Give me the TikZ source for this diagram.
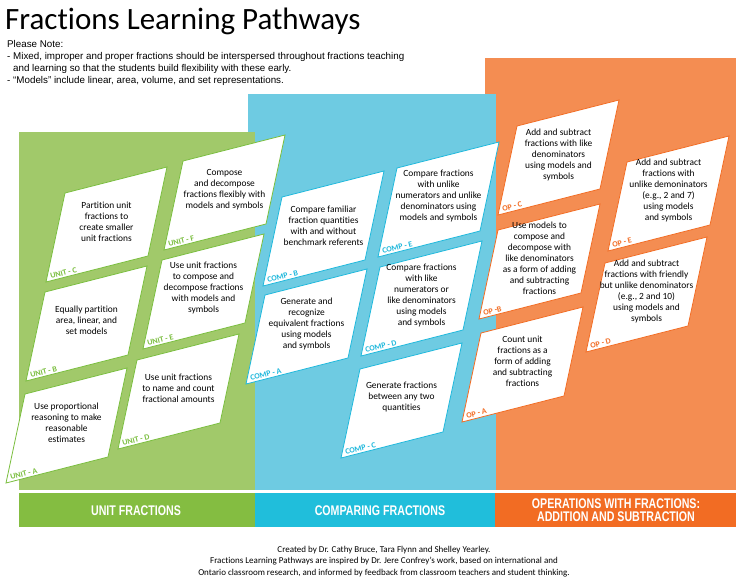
\documentclass[tikz,border=0pt]{standalone}
\usepackage{fontspec}
\setmainfont{Carlito}[Ligatures=NoCommon]
\newfontfamily\notefont{Liberation Sans}
\newfontfamily\barfont[FakeStretch=0.76]{Liberation Sans}

% panel and bar colours
\definecolor{greenbg}{RGB}{161,201,106}
\definecolor{bluebg}{RGB}{110,203,226}
\definecolor{orangebg}{RGB}{244,141,82}
\definecolor{greenbar}{RGB}{132,189,65}
\definecolor{bluebar}{RGB}{32,190,219}
\definecolor{orangebar}{RGB}{242,108,35}
\definecolor{unitcol}{RGB}{122,190,62}
\definecolor{compcol}{RGB}{30,184,220}
\definecolor{opcol}{RGB}{242,108,35}

\tikzset{
  cardedge/.style={draw=#1, fill=white, line width=0.8pt, line join=miter},
  cardtext/.style={align=center, inner sep=0pt, font=\fontsize{9.4}{11}\selectfont},
  cardlab/.style={text=#1, anchor=south west, rotate=14.3, inner sep=0pt,
    font=\fontsize{8}{8}\selectfont\bfseries},
  barlab/.style={text=white, align=center, font=\barfont\bfseries\fontsize{14}{13}\selectfont},
}

\begin{document}
\begin{tikzpicture}[x=1pt, y=-1pt]
  \useasboundingbox (0,0) rectangle (739,584);

  % Title and notes
  \node[anchor=base west, inner sep=0pt, font=\fontsize{31}{31}\selectfont] (title) at (5,29)
    {Fractions Learning Pathways};
  \node[anchor=north west, inner sep=0pt, align=left, font=\notefont\fontsize{9.8}{12}\selectfont] (note) at (7,40.5)
    {Please Note:\\
     - Mixed, improper and proper fractions should be interspersed throughout fractions teaching\\
     \phantom{- }and learning so that the students build flexibility with these early.\\
     - “Models” include linear, area, volume, and set representations.};

  % Coloured panels (orange at the back, green in front)
  \fill[orangebg] (485,58) rectangle (736,490);
  \fill[bluebg] (248,94) rectangle (496,490);
  \fill[greenbg] (19,132) rectangle (255,490);

  % Cards: name / top-left corner / colour / label / text
  \foreach \nm/\x/\y/\col/\lab/\txt in {
      unitC/65/193/unitcol/{UNIT -  C}/{Partition unit\\fractions to\\create smaller\\unit fractions},
      unitF/183/161/unitcol/{UNIT - F}/{Compose\\and decompose\\fractions flexibly with\\models and symbols},
      unitB/45/292/unitcol/{UNIT - B}/{Equally partition\\area, linear, and\\set models},
      unitE/162/260/unitcol/{UNIT - E}/{Use unit fractions\\to compose and\\decompose fractions\\with models and\\symbols},
      unitA/25/394/unitcol/{UNIT - A}/{Use proportional\\reasoning to make\\reasonable\\estimates},
      unitD/137/360/unitcol/{UNIT - D}/{Use unit fractions\\to name and count\\fractional amounts},
      compB/282/197/compcol/{COMP - B}/{Compare familiar\\fraction quantities\\with and without\\benchmark referents},
      compE/397/168/compcol/{COMP - E}/{Compare fractions\\with unlike\\numerators and unlike\\denominators using\\models and symbols},
      compA/265/295/compcol/{COMP - A}/{Generate and\\recognize\\equivalent fractions\\using models\\and symbols},
      compD/380/267/compcol/{COMP - D}/{Compare fractions\\with like\\numerators or\\like denominators\\using models\\and symbols},
      compC/360/369/compcol/{COMP - C}/{Generate fractions\\between any two\\quantities},
      opC/517/126/opcol/{OP - C}/{Add and subtract\\fractions with like\\denominators\\using models and\\symbols},
      opE/627/162/opcol/{OP - E}/{Add and subtract\\fractions with\\unlike demoninators\\(e.g., 2 and 7)\\using models\\and symbols},
      opB/498/230/opcol/{OP -B}/{Use models to\\compose and\\decompose with\\like denominators\\as a form of adding\\and subtracting\\fractions},
      opD/605/263/opcol/{OP - D}/{Add and subtract\\fractions with friendly\\but unlike denominators\\(e.g., 2 and 10)\\using models and\\symbols},
      opA/481/333/opcol/{OP - A}/{Count unit\\fractions as a\\form of adding\\and subtracting\\fractions}%
    } {
    \draw[cardedge=\col] (\x,\y) -- ++(102,-26) -- ++(-19,89) -- ++(-102,26) -- cycle;
    \node[cardtext] (\nm) at (\x+41.5,\y+28.5) {\txt};
    \node[cardlab=\col] (\nm-lab) at (\x-14,\y+86) {\lab};
  }

  % Strand bars
  \fill[greenbar] (19,493) rectangle (255,527);
  \fill[bluebar] (255,493) rectangle (495,527);
  \fill[orangebar] (495,493) rectangle (736,527);
  \node[barlab] (unitbar) at (136,511) {UNIT FRACTIONS};
  \node[barlab] (compbar) at (380,511) {COMPARING FRACTIONS};
  \node[barlab] (opbar) at (616,510.5) {OPERATIONS WITH FRACTIONS:\\ADDITION AND SUBTRACTION};

  % Credits
  \node[anchor=north, inner sep=0pt, align=center, font=\fontsize{9}{11.5}\selectfont] (credits) at (384,546)
    {Created by Dr. Cathy Bruce, Tara Flynn and Shelley Yearley.\\
     Fractions Learning Pathways are inspired by Dr. Jere Confrey’s work, based on international and\\
     Ontario classroom research, and informed by feedback from classroom teachers and student thinking.};
\end{tikzpicture}
\end{document}
